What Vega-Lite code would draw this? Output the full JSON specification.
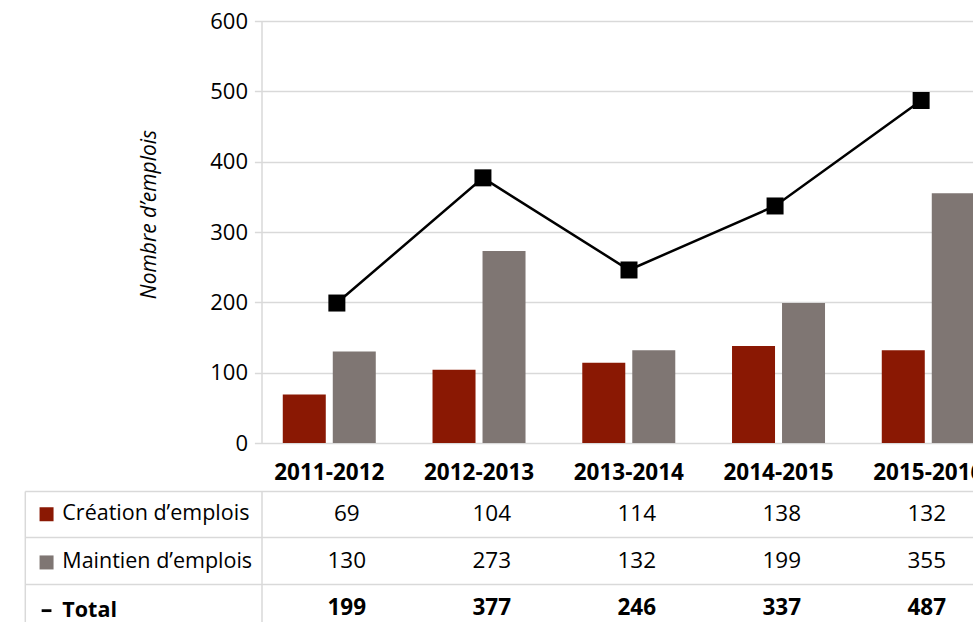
{
  "$schema": "https://vega.github.io/schema/vega-lite/v6.json",
  "background": "white",
  "padding": {"left": 23.5, "top": 10, "right": 0, "bottom": 0},
  "autosize": {"type": "pad"},
  "bounds": "flush",
  "spacing": 48,
  "datasets": {
    "bars": [
      {"year": "2011-2012", "series": "Création d’emplois", "value": 69},
      {"year": "2011-2012", "series": "Maintien d’emplois", "value": 130},
      {"year": "2012-2013", "series": "Création d’emplois", "value": 104},
      {"year": "2012-2013", "series": "Maintien d’emplois", "value": 273},
      {"year": "2013-2014", "series": "Création d’emplois", "value": 114},
      {"year": "2013-2014", "series": "Maintien d’emplois", "value": 132},
      {"year": "2014-2015", "series": "Création d’emplois", "value": 138},
      {"year": "2014-2015", "series": "Maintien d’emplois", "value": 199},
      {"year": "2015-2016", "series": "Création d’emplois", "value": 132},
      {"year": "2015-2016", "series": "Maintien d’emplois", "value": 355}
    ],
    "totals": [
      {"year": "2011-2012", "series": "Total", "value": 199},
      {"year": "2012-2013", "series": "Total", "value": 377},
      {"year": "2013-2014", "series": "Total", "value": 246},
      {"year": "2014-2015", "series": "Total", "value": 337},
      {"year": "2015-2016", "series": "Total", "value": 487}
    ],
    "series": [
      {"series": "Création d’emplois"},
      {"series": "Maintien d’emplois"},
      {"series": "Total"}
    ]
  },
  "resolve": {"scale": {"x": "independent", "y": "independent", "color": "independent"}, "legend": {"color": "independent"}},
  "vconcat": [
    {
      "width": 735,
      "height": 422,
      "resolve": {"scale": {"x": "independent"}},
      "layer": [
        {
          "data": {"name": "bars"},
          "mark": {"type": "bar"},
          "encoding": {
            "x": {
              "field": "year", "type": "nominal",
              "scale": {"type": "band", "range": [-7.1, 741.65], "paddingInner": 0, "paddingOuter": 0},
              "axis": {"title": null, "domain": false, "ticks": false, "grid": false, "labelAngle": 0,
                "labelFont": "Open Sans", "labelFontWeight": "bold", "labelFontSize": 22.5, "labelColor": "#000000", "labelPadding": 18}
            },
            "xOffset": {
              "field": "series", "type": "nominal",
              "scale": {"domain": ["Création d’emplois", "Maintien d’emplois"], "paddingInner": 0.14, "paddingOuter": 0.5675}
            },
            "y": {
              "field": "value", "type": "quantitative",
              "scale": {"domain": [0, 600], "nice": false},
              "axis": {
                "title": "Nombre d’emplois", "titleFont": "Open Sans", "titleFontStyle": "italic", "titleFontWeight": "normal",
                "titleFontSize": 21, "titleColor": "#000000", "titleX": -111.7, "titleY": 193, "titleAngle": -90,
                "titleAlign": "center", "titleBaseline": "middle",
                "values": [0, 100, 200, 300, 400, 500, 600],
                "grid": true, "gridColor": "#d9d9d9", "gridWidth": 1.5,
                "domain": true, "domainColor": "#d9d9d9", "domainWidth": 1.5,
                "ticks": false, "labelPadding": 14, "labelFont": "Open Sans", "labelFontSize": 22,
                "labelColor": "#000000", "labelFlush": false, "labelOverlap": false
              }
            },
            "color": {
              "field": "series", "type": "nominal",
              "scale": {"domain": ["Création d’emplois", "Maintien d’emplois", "Total"], "range": ["#8a1803", "#7f7673", "#000000"]},
              "legend": null
            }
          }
        },
        {
          "data": {"name": "totals"},
          "mark": {"type": "line", "color": "#000000", "strokeWidth": 2.5,
            "point": {"filled": true, "shape": "square", "size": 289, "color": "#000000", "opacity": 1}},
          "encoding": {
            "x": {"field": "year", "type": "nominal", "scale": {"type": "point", "padding": 0.516}, "axis": null},
            "y": {"field": "value", "type": "quantitative"}
          }
        }
      ]
    },
    {
      "width": 750.5,
      "height": 140,
      "resolve": {"axis": {"y": "independent"}},
      "layer": [
        {
          "data": {"name": "bars"},
          "mark": {"type": "text", "font": "Open Sans", "fontSize": 22.5, "color": "#000000", "baseline": "middle", "align": "center"},
          "encoding": {
            "x": {"field": "year", "type": "nominal", "scale": {"type": "band", "paddingInner": 0, "paddingOuter": 0.088}, "axis": null},
            "y": {
              "field": "series", "type": "nominal",
              "scale": {"type": "band", "domain": ["Création d’emplois", "Maintien d’emplois", "Total"], "paddingInner": 0, "paddingOuter": 0},
              "axis": {"orient": "left", "title": null, "labels": false, "ticks": true, "tickSize": 236.7, "tickColor": "#d9d9d9",
                "tickWidth": 1.5, "bandPosition": 0, "grid": true, "gridColor": "#d9d9d9", "gridWidth": 1.5,
                "domain": true, "domainColor": "#d9d9d9", "domainWidth": 1.5}
            },
            "text": {"field": "value", "type": "quantitative"}
          }
        },
        {
          "data": {"name": "totals"},
          "mark": {"type": "text", "font": "Open Sans", "fontSize": 22.5, "fontWeight": "bold", "color": "#000000", "baseline": "middle", "align": "center"},
          "encoding": {
            "x": {"field": "year", "type": "nominal"},
            "y": {
              "field": "series", "type": "nominal",
              "axis": {"orient": "left", "offset": 236.7, "title": null, "labels": false, "ticks": false, "grid": false,
                "domain": true, "domainColor": "#d9d9d9", "domainWidth": 1.5}
            },
            "text": {"field": "value", "type": "quantitative"}
          }
        },
        {
          "data": {"name": "series"},
          "mark": {"type": "point", "filled": true, "opacity": 0},
          "encoding": {
            "y": {"field": "series", "type": "nominal", "axis": null},
            "color": {
              "field": "series", "type": "nominal",
              "scale": {"domain": ["Création d’emplois", "Maintien d’emplois", "Total"], "range": ["#8a1803", "#7f7673", "#000000"]},
              "legend": {
                "orient": "none", "legendX": -225.7, "legendY": 12.5, "title": null, "padding": 0,
                "symbolSize": 196, "symbolType": "square", "symbolOpacity": 1, "symbolStrokeWidth": 0,
                "labelFont": "Open Sans", "labelFontSize": 21.5, "labelColor": "#000000", "labelOffset": 5,
                "labelLimit": 400, "rowPadding": 25.2,
                "encode": {
                  "symbols": {"update": {
                    "shape": {"signal": "datum.value === 'Total' ? 'M-0.7,-0.2H0.7V0.2H-0.7Z' : 'square'"},
                    "opacity": {"value": 1}
                  }},
                  "labels": {"update": {"fontWeight": {"signal": "datum.value === 'Total' ? 'bold' : 'normal'"}}}
                }
              }
            }
          }
        }
      ]
    }
  ],
  "config": {
    "view": {"stroke": null},
    "font": "Open Sans"
  }
}
